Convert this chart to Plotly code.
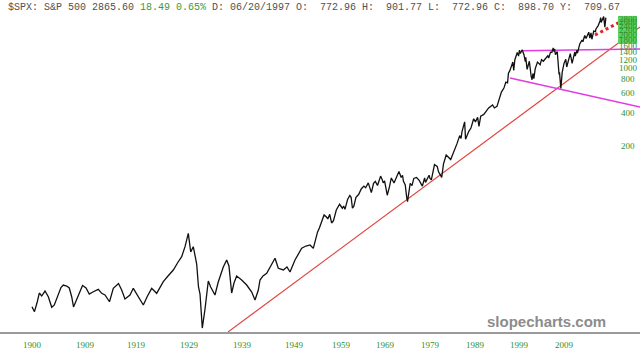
import numpy as np
import plotly.graph_objects as go

# ---------------- data ----------------
HEADER_LEFT = "$SPX: S&P 500 2865.60 "
HEADER_GREEN = "18.49 0.65%"
HEADER_RIGHT = " D: 06/20/1997 O:  772.96 H:  901.77 L:  772.96 C:  898.70 Y:  709.67"

TICK_YEARS = [1900, 1909, 1919, 1929, 1939, 1949, 1959, 1969, 1979, 1989, 1999, 2009]
# time-scale of the chart (axis units at each labelled year; spacing is not uniform)
TICK_POS = [32, 85, 136, 189, 242, 294, 341, 385, 430, 475, 519, 564]
LATE_RATE = 4.5  # axis units per year after the last label

Y_LABELS = [200, 400, 600, 800, 1000, 1200, 1400, 1600, 1800, 2000, 2200, 2400, 2600, 2800]

years = [
    1900.0, 1900.42, 1900.9, 1901.24, 1901.65, 1902.21, 1902.77, 1903.35, 1903.79, 1904.47,
    1904.92, 1905.31, 1905.89, 1906.33, 1906.74, 1907.05, 1907.69, 1908.15, 1908.58, 1909.2,
    1909.84, 1910.63, 1911.61, 1912.27, 1912.92, 1913.8, 1914.55, 1915.57, 1916.19, 1916.84,
    1917.82, 1918.47, 1919.38, 1920.38, 1921.17, 1921.96, 1922.9, 1923.53, 1924.15, 1925.04,
    1926.04, 1926.83, 1927.62, 1928.25, 1928.87, 1929.32, 1929.81, 1930.45, 1930.79, 1931.08,
    1931.51, 1932.02, 1932.64, 1933.09, 1933.58, 1933.9, 1934.52, 1934.84, 1935.47, 1936.11,
    1936.54, 1937.05, 1937.49, 1937.99, 1938.94, 1939.9, 1940.87, 1941.5, 1942.14, 1942.46,
    1943.04, 1943.75, 1944.58, 1945.35, 1945.98, 1946.95, 1947.65, 1948.23, 1949.21, 1950.64,
    1951.55, 1952.4, 1953.11,
    1953.6, 1954.0, 1954.4, 1954.6, 1954.9, 1955.1, 1955.4, 1955.9, 1956.2, 1956.6,
    1957.0, 1957.4, 1958.0, 1958.7, 1959.0, 1959.3, 1959.6, 1959.9, 1960.5, 1961.0,
    1961.3, 1961.6, 1961.9, 1962.4, 1963.0, 1963.6, 1964.2, 1964.6, 1965.2, 1965.5,
    1965.9, 1966.4, 1966.8, 1967.3, 1968.0, 1968.3, 1968.6, 1968.9, 1969.5, 1970.0,
    1970.4, 1971.0, 1971.6, 1972.1, 1972.6, 1972.9, 1973.1, 1973.5, 1973.8, 1974.0,
    1974.6, 1975.0, 1975.4, 1976.0, 1976.6, 1977.3, 1977.8, 1978.0, 1978.8, 1979.0,
    1979.3, 1980.0, 1980.6, 1980.9, 1981.6, 1982.0, 1982.6, 1983.6, 1984.0, 1984.6,
    1985.0, 1985.6, 1985.9, 1986.1, 1986.7, 1986.9, 1987.6, 1988.1, 1988.7, 1989.1,
    1989.6, 1989.9, 1990.3, 1991.0, 1991.6, 1992.1, 1993.0, 1993.4, 1994.0, 1994.6,
    1995.0, 1995.6, 1996.0, 1996.4, 1996.6, 1996.9, 1997.6, 1997.8, 1998.05, 1998.6,
    1998.9, 1999.1, 1999.3, 1999.7, 1999.85, 2000.1, 2000.4, 2000.5, 2000.8, 2001.1,
    2001.3, 2001.7, 2001.9, 2002.1, 2002.3, 2002.6, 2003.1, 2003.7, 2004.0, 2004.4,
    2004.9, 2005.4, 2005.6, 2006.0, 2006.3, 2006.6, 2006.7, 2006.9, 2007.1, 2007.5,
    2007.9, 2008.0, 2008.3, 2008.6, 2009.0, 2009.4, 2009.6, 2010.4, 2010.8, 2011.4,
    2011.5, 2011.9, 2012.0, 2012.5, 2013.0, 2013.2, 2013.6, 2013.9, 2014.5, 2014.75,
    2015.0, 2015.2, 2015.6, 2016.0, 2016.1, 2016.6, 2017.0, 2017.15, 2017.25, 2017.55,
    2017.82, 2018.08, 2018.3,
]
values = [
    7.13, 6.43, 7.90, 9.47, 8.90, 9.87, 8.77, 7.05, 7.39, 9.41,
    10.61, 11.18, 10.95, 10.51, 8.77, 7.09, 8.54, 9.73, 11.07, 10.51,
    9.28, 9.73, 10.23, 9.41, 9.09, 7.90, 10.44, 11.54, 10.08, 8.36,
    9.09, 10.44, 8.90, 7.39, 8.90, 10.44, 9.41, 10.73, 11.98, 13.49,
    15.27, 17.65, 20.12, 24.76, 32.69, 22.18, 24.76, 17.29, 10.73, 9.28,
    4.58, 6.80, 12.15, 10.73, 9.67, 9.09, 11.91, 13.21, 16.25, 18.79,
    16.59, 9.47, 11.66, 13.49, 12.41, 11.18, 9.67, 8.19, 10.08, 12.41,
    13.49, 14.26, 16.59, 19.47, 15.82, 15.27, 16.25, 14.65, 18.79, 23.95,
    25.12, 25.65, 23.95,
    29.2, 33.5, 36.5, 38.5, 43.0, 44.5, 47.8, 45.8, 44.0, 48.5,
    40.5, 42.5, 53.0, 59.7, 57.5, 55.0, 57.5, 53.7, 66.0, 71.7,
    69.0, 55.0, 57.0, 69.0, 73.0, 82.0, 87.0, 84.0, 93.0, 86.0,
    76.0, 92.0, 96.0, 88.0, 107.0, 101.0, 93.0, 97.0, 72.0, 86.0,
    103.0, 93.0, 108.0, 118.0, 104.0, 109.0, 96.0, 89.0, 70.0, 63.0,
    92.0, 88.0, 102.0, 104.0, 98.0, 87.0, 103.0, 94.0, 109.0, 102.0,
    99.0, 136.0, 131.0, 117.0, 104.0, 138.0, 166.0, 151.0, 166.0, 190.0,
    210.0, 248.0, 234.0, 268.0, 330.0, 230.0, 270.0, 290.0, 352.0, 330.0,
    362.0, 300.0, 372.0, 385.0, 415.0, 440.0, 468.0, 440.0, 455.0, 545.0,
    612.0, 668.0, 752.0, 740.0, 905.0, 950.0, 1140.0, 960.0, 1190.0, 1390.0,
    1290.0, 1460.0, 1360.0, 1470.0, 1420.0, 1330.0, 1150.0, 1260.0, 980.0, 1140.0,
    1160.0, 850.0, 790.0, 900.0, 810.0, 990.0, 1140.0, 1080.0, 1200.0, 1160.0,
    1240.0, 1300.0, 1240.0, 1400.0, 1390.0, 1530.0, 1420.0, 1500.0, 1330.0, 1420.0,
    880.0, 920.0, 660.0, 920.0, 1110.0, 1210.0, 1030.0, 1360.0, 1110.0, 1410.0,
    1290.0, 1460.0, 1370.0, 1660.0, 1800.0, 1740.0, 1980.0, 1860.0, 2120.0, 1870.0,
    2090.0, 1830.0, 2170.0, 2140.0, 2270.0, 2430.0, 2680.0, 2870.0, 2590.0, 2760.0,
    2930.0, 2350.0, 2865.0,
]

# trend lines: (year, value) end points
red_years, red_values = [1936.36, 2025.9], [4.22, 2361]
mag_top_years, mag_top_values = [1999.67, 2025.9], [1444, 1496]
mag_low_years, mag_low_values = [1996.96, 2025.9], [819, 449]
dot_years, dot_values = [2015.89, 2021.89], [2000, 2674]

BOX_LOW, BOX_HIGH = 1660, 2970   # highlighted price box on the scale

Y_LOG_RANGE = [0.6252, 3.6162]

GREEN = "#2f8f2f"


def tpos(yrs):
    yrs = np.asarray(yrs, dtype=float)
    p = np.interp(yrs, TICK_YEARS, TICK_POS)
    late = yrs > TICK_YEARS[-1]
    p[late] = TICK_POS[-1] + (yrs[late] - TICK_YEARS[-1]) * LATE_RATE
    return p


fig = go.Figure()

fig.add_trace(go.Scatter(x=tpos(red_years), y=red_values, mode="lines",
                         line=dict(color="#e0453f", width=1.1), hoverinfo="skip"))
fig.add_trace(go.Scatter(x=tpos(mag_top_years), y=mag_top_values, mode="lines",
                         line=dict(color="#e23ce2", width=1.6), hoverinfo="skip"))
fig.add_trace(go.Scatter(x=tpos(mag_low_years), y=mag_low_values, mode="lines",
                         line=dict(color="#e23ce2", width=1.6), hoverinfo="skip"))
fig.add_trace(go.Scatter(x=tpos(years), y=values, mode="lines",
                         line=dict(color="#111111", width=1.3), hoverinfo="skip"))
fig.add_trace(go.Scatter(x=tpos(dot_years), y=dot_values, mode="lines",
                         line=dict(color="#e02424", width=3, dash="dot"), hoverinfo="skip"))

lo, hi = Y_LOG_RANGE


def paper_y(v):
    return (np.log10(v) - lo) / (hi - lo)


shapes = [dict(type="rect", xref="paper", yref="paper",
               x0=618 / 640, x1=637 / 640, y0=paper_y(BOX_LOW), y1=paper_y(BOX_HIGH),
               fillcolor="#5fd35f", line=dict(width=0), layer="above")]

annotations = []
for v in Y_LABELS:
    annotations.append(dict(x=628 / 640, xref="paper", y=np.log10(v), yref="y",
                            text=str(v), showarrow=False, xanchor="center", yanchor="middle",
                            font=dict(family="Liberation Serif", size=9, color=GREEN)))

header = (HEADER_LEFT.replace("  ", "\u00a0\u00a0") +
          f'<span style="color:#3a9a3a">{HEADER_GREEN}</span>' +
          HEADER_RIGHT.replace("  ", "\u00a0\u00a0"))
annotations.append(dict(x=6 / 640, xref="paper", y=1 - 7.5 / 332, yref="paper",
                        text=header, showarrow=False, xanchor="left", yanchor="middle",
                        font=dict(family="Liberation Mono", size=10, color="#505050")))
annotations.append(dict(x=546 / 640, xref="paper", y=(332 - 321.5) / 332, yref="paper",
                        text="<b>slopecharts.com</b>", showarrow=False,
                        xanchor="center", yanchor="middle",
                        font=dict(family="Liberation Sans", size=15, color="#8c8c8c")))

fig.update_layout(
    width=640, height=359,
    margin=dict(l=0, r=0, t=0, b=27),
    paper_bgcolor="white", plot_bgcolor="white",
    showlegend=False,
    shapes=shapes, annotations=annotations,
    xaxis=dict(range=[0, 640], showgrid=False, zeroline=False,
               tickvals=tpos(TICK_YEARS), ticktext=[str(y) for y in TICK_YEARS],
               tickfont=dict(family="Liberation Serif", size=9, color=GREEN),
               showline=True, linecolor="#9a9a9a", linewidth=2,
               ticks="outside", ticklen=3, tickcolor="rgba(0,0,0,0)"),
    yaxis=dict(type="log", range=Y_LOG_RANGE, showgrid=False, zeroline=False,
               showticklabels=False),
)

fig.write_html("out.html", config={"displayModeBar": False})
